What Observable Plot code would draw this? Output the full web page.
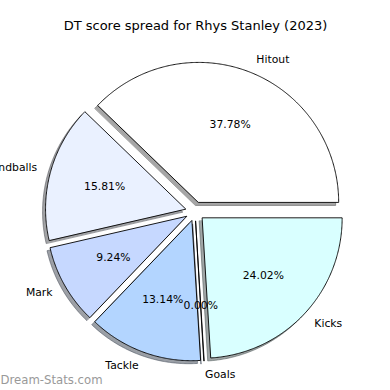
<!DOCTYPE html>
<html><head><meta charset="utf-8">
<script src="https://cdn.jsdelivr.net/npm/d3@7"></script>
<script src="https://cdn.jsdelivr.net/npm/@observablehq/plot@0.6"></script>
<style>body{margin:0;background:#fff;overflow:hidden}</style>
</head><body><div id="chart"></div>
<script>
// ---- data ----
const labels = ["Hitout", "Handballs", "Mark", "Tackle", "Goals", "Kicks"];
const values = [37.78, 15.81, 9.24, 13.14, 0.00, 24.02];
const colors = ["#ffffff", "#eaf1ff", "#c6d8ff", "#b3d5ff", "#a0c8ff", "#d9ffff"];
const title = "DT score spread for Rhys Stanley (2023)";
const watermark = "Dream-Stats.com";

// ---- layout ----
const W = 390, H = 390;
const RPX = 140, CX = 194.5, CY = 211;   // radius and centre in pixels
const explode = 0.07, shadowOff = 3 / RPX;
const labelDist = 1.1, pctDist = 0.6;

const total = d3.sum(values);
const wedges = [];
const shadows = [];
const names = [];
const pcts = [];
let start = 0;
labels.forEach((lab, i) => {
  const frac = values[i] / total;
  const t1 = start * 2 * Math.PI, t2 = (start + frac) * 2 * Math.PI;
  const tm = (t1 + t2) / 2;
  const ox = explode * Math.cos(tm), oy = explode * Math.sin(tm);
  const n = Math.max(2, Math.ceil((t2 - t1) / (Math.PI / 360)));
  const pts = [[ox, oy]];
  for (let k = 0; k <= n; k++) {
    const t = t1 + (t2 - t1) * k / n;
    pts.push([ox + Math.cos(t), oy + Math.sin(t)]);
  }
  const c = d3.rgb(colors[i]);
  const sh = d3.rgb(c.r * 0.3, c.g * 0.3, c.b * 0.3).formatHex();
  pts.forEach(([x, y]) => {
    wedges.push({label: lab, x, y, fill: colors[i]});
    shadows.push({label: lab, x: x - shadowOff, y: y - shadowOff, fill: sh});
  });
  const lx = ox + labelDist * Math.cos(tm), ly = oy + labelDist * Math.sin(tm);
  names.push({label: lab, x: lx, y: ly, side: lx > 0 ? "start" : "end"});
  pcts.push({x: ox + pctDist * Math.cos(tm), y: oy + pctDist * Math.sin(tm), text: values[i].toFixed(2) + "%"});
  start += frac;
});

const font = "DejaVu Sans, sans-serif";
const chart = Plot.plot({
  width: W, height: H,
  margin: 0,
  style: {fontFamily: font, background: "#fff", overflow: "visible"},
  x: {domain: [-CX / RPX, (W - CX) / RPX], axis: null},
  y: {domain: [-(H - CY) / RPX, CY / RPX], axis: null},
  color: {type: "identity"},
  marks: [
    Plot.line(shadows, {x: "x", y: "y", z: "label", fill: "fill", stroke: "fill", fillOpacity: 0.5, strokeOpacity: 0.5, strokeWidth: 1, curve: "linear-closed"}),
    Plot.line(wedges, {x: "x", y: "y", z: "label", fill: "fill", stroke: "#000", strokeWidth: 0.9, curve: "linear-closed"}),
    Plot.text(pcts, {x: "x", y: "y", text: "text", fontSize: 10.8, fill: "#000", lineAnchor: "middle", textAnchor: "middle"}),
    Plot.text(names.filter(d => d.side === "start"), {x: "x", y: "y", text: "label", fontSize: 10.8, fill: "#000", lineAnchor: "middle", textAnchor: "start"}),
    Plot.text(names.filter(d => d.side === "end"), {x: "x", y: "y", text: "label", fontSize: 10.8, fill: "#000", lineAnchor: "middle", textAnchor: "end"}),
    Plot.text([title], {frameAnchor: "top", dy: 25, text: d => d, fontSize: 13, fill: "#000", lineAnchor: "middle"}),
    Plot.text([watermark], {frameAnchor: "bottom-left", dy: -10, dx: 0, text: d => d, fontSize: 11.7, fill: "#999", lineAnchor: "middle", textAnchor: "start"})
  ]
});
document.getElementById("chart").appendChild(chart);
</script>
</body></html>
